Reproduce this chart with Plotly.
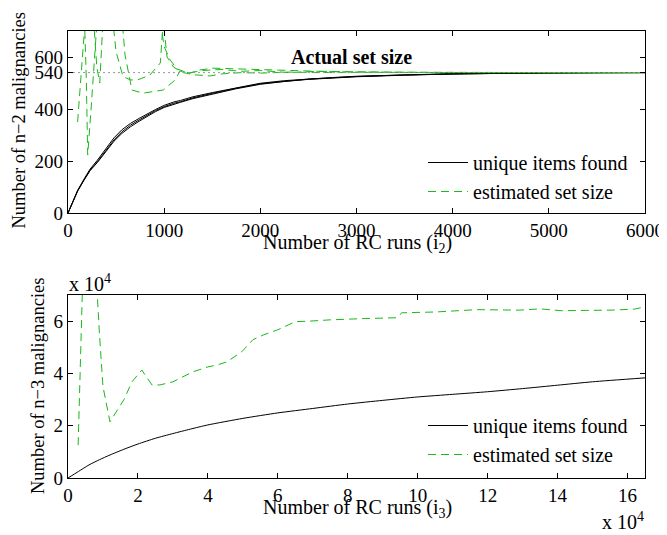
import plotly.graph_objects as go

# ---------------- data: n-2 (top panel) ----------------
ACTUAL_SET_SIZE = 540

UNIQUE2_X = [0, 50, 100, 166, 230, 305, 400, 478, 560, 651, 740, 825, 910, 1000, 1100, 1171,
             1300, 1500, 1750, 2000, 2250, 2500, 2750, 3000, 3500, 4000, 4500, 5000, 5500, 6000]
UNIQUE2_A = [0, 45, 85, 127, 165, 197, 243, 281, 312, 338, 358, 377, 394, 409, 422, 428,
             443, 460, 480, 497, 507, 515, 520, 525, 531, 535, 537, 539, 540, 540]
UNIQUE2_B = [0, 46, 87, 130, 169, 203, 250, 289, 320, 345, 364, 382, 398, 414, 427, 433,
             447, 463, 482, 499, 509, 516, 521, 526, 532, 536, 538, 539, 540, 540]
UNIQUE2_C = [0, 45, 84, 126, 163, 194, 238, 276, 306, 332, 353, 372, 390, 406, 419, 426,
             440, 458, 478, 495, 506, 514, 520, 524, 530, 535, 537, 539, 540, 540]

EST2_A_X = [100, 130, 160, 185, 230, 270, 300, 330, 360, 400, 600, 800, 950, 1000, 1060, 1130,
            1250, 1400, 1600, 1800, 2000, 2300, 2600, 3000, 3500, 4000, 4500, 5000, 5500, 6000]
EST2_A_Y = [350, 520, 650, 760, 900, 720, 560, 500, 720, 1000, 1200, 1000, 760, 640, 590, 555,
            538, 548, 552, 545, 548, 540, 545, 542, 541, 540, 540, 540, 540, 540]

EST2_B_X = [140, 175, 190, 205, 240, 290, 350, 420, 478, 500, 572, 650, 717, 850, 960, 990,
            1030, 1100, 1200, 1300, 1476, 1600, 1800, 2000, 2300, 2600, 3000, 3500, 4000,
            4500, 5000, 5500, 6000]
EST2_B_Y = [900, 700, 520, 223, 400, 720, 1000, 900, 700, 620, 525, 512, 511, 530, 577, 740,
            600, 560, 540, 532, 527, 535, 540, 538, 542, 540, 541, 540, 540,
            540, 540, 540, 540]

EST2_C_X = [80, 150, 250, 400, 520, 572, 593, 665, 780, 990, 1112, 1164, 1270, 1370, 1507,
            1700, 1900, 2100, 2400, 2700, 3000, 3500, 4000, 4500, 5000, 6000]
EST2_C_Y = [1500, 1400, 1200, 1000, 800, 700, 608, 473, 461, 473, 511, 546, 538, 550, 557,
            555, 552, 548, 546, 544, 542, 541, 540, 540, 540, 540]

X2_TICKS = [0, 1000, 2000, 3000, 4000, 5000, 6000]
Y2_TICKS = [0, 200, 400, 540, 600]

# ---------------- data: n-3 (bottom panel) ----------------
UNIQUE3_X = [0, 3000, 6000, 9000, 12000, 16000, 20000, 25000, 30000, 35000, 40000, 50000,
             60000, 70000, 80000, 90000, 100000, 110000, 120000, 130000, 140000, 150000, 165000]
UNIQUE3_Y = [0, 2500, 5000, 7000, 8800, 11000, 13000, 15200, 17000, 18700, 20300, 22800,
             24900, 26600, 28300, 29700, 31000, 32000, 33000, 34200, 35500, 36800, 38300]

EST3_X = [2900, 4200, 6000, 8300, 9000, 10000, 12000, 16000, 18300, 21100, 24000, 26300,
          30000, 35700, 40000, 42600, 45400, 49700, 52900, 56000, 60000, 65000, 69000, 75000,
          85000, 94000, 95500, 105000, 117000, 129000, 135000, 141000, 155000, 162000, 165000]
EST3_Y = [12600, 76000, 95000, 72000, 55000, 35000, 21500, 30000, 36800, 41300, 35600, 35600,
          36800, 40600, 42500, 43200, 44400, 48300, 52900, 54800, 56700, 59800, 60000, 60500,
          61000, 61300, 63200, 63500, 64400, 64200, 64700, 64000, 64200, 64600, 65500]

X3_TICKVALS = [0, 20000, 40000, 60000, 80000, 100000, 120000, 140000, 160000]
X3_TICKTEXT = ["0", "2", "4", "6", "8", "10", "12", "14", "16"]
Y3_TICKVALS = [0, 20000, 40000, 60000]
Y3_TICKTEXT = ["0", "2", "4", "6"]

# ---------------- styling ----------------
FONT = "Liberation Serif"
BLACK = "black"
GREEN = "rgb(25,185,25)"
DASH = "8px,5px"
OFF = 8                      # page body margin
W, H = 667 - OFF, 535 - OFF  # figure size


def px(x):
    return (x - OFF) / W


def py(y):
    return 1 - (y - OFF) / H


fig = go.Figure()

# top panel
for i, ys in enumerate([UNIQUE2_A, UNIQUE2_B, UNIQUE2_C]):
    fig.add_trace(go.Scatter(x=UNIQUE2_X, y=ys, mode="lines", xaxis="x", yaxis="y",
                             line=dict(color=BLACK, width=1), name="unique items found",
                             legend="legend", legendgroup="u2", showlegend=(i == 0)))
for i, (xs, ys) in enumerate([(EST2_A_X, EST2_A_Y), (EST2_B_X, EST2_B_Y), (EST2_C_X, EST2_C_Y)]):
    fig.add_trace(go.Scatter(x=xs, y=ys, mode="lines", xaxis="x", yaxis="y",
                             line=dict(color=GREEN, width=1, dash=DASH), name="estimated set size",
                             legend="legend", legendgroup="e2", showlegend=(i == 0)))
fig.add_trace(go.Scatter(x=[X2_TICKS[0], X2_TICKS[-1]], y=[ACTUAL_SET_SIZE, ACTUAL_SET_SIZE],
                         mode="lines", xaxis="x", yaxis="y", showlegend=False,
                         line=dict(color="#999999", width=1, dash="2px,3px")))

# bottom panel
fig.add_trace(go.Scatter(x=UNIQUE3_X, y=UNIQUE3_Y, mode="lines", xaxis="x2", yaxis="y2",
                         line=dict(color=BLACK, width=1, shape="spline", smoothing=0.6),
                         name="unique items found", legend="legend2", legendgroup="u3"))
fig.add_trace(go.Scatter(x=EST3_X, y=EST3_Y, mode="lines", xaxis="x2", yaxis="y2",
                         line=dict(color=GREEN, width=1, dash=DASH), name="estimated set size",
                         legend="legend2", legendgroup="e3"))

XDOM = [px(68), px(645)]
axis_common = dict(showline=True, linecolor="black", linewidth=1.2, mirror="ticks",
                   ticks="inside", ticklen=5, tickwidth=1, tickcolor="black",
                   showgrid=False, zeroline=False, automargin=False,
                   tickfont=dict(family=FONT, size=19, color="black"))

fig.update_layout(
    width=W, height=H, margin=dict(l=0, r=0, t=0, b=0, autoexpand=False),
    paper_bgcolor="white", plot_bgcolor="white",
    font=dict(family=FONT, size=20, color="black"),
    xaxis=dict(domain=XDOM, range=[0, 6000], tickvals=X2_TICKS, anchor="y", **axis_common),
    yaxis=dict(domain=[py(213), py(31)], range=[0, 700], tickvals=Y2_TICKS,
               anchor="x", **axis_common),
    xaxis2=dict(domain=XDOM, range=[0, 165000], tickvals=X3_TICKVALS, ticktext=X3_TICKTEXT,
                anchor="y2", **axis_common),
    yaxis2=dict(domain=[py(478), py(295)], range=[0, 70000], tickvals=Y3_TICKVALS,
                ticktext=Y3_TICKTEXT, anchor="x2", **axis_common),
    legend=dict(x=px(423), y=py(143), xanchor="left", yanchor="top",
                bgcolor="rgba(0,0,0,0)", font=dict(family=FONT, size=20),
                traceorder="grouped", tracegroupgap=0, itemwidth=40),
    legend2=dict(x=px(423), y=py(406), xanchor="left", yanchor="top",
                 bgcolor="rgba(0,0,0,0)", font=dict(family=FONT, size=20),
                 traceorder="grouped", tracegroupgap=0, itemwidth=40),
)

ann = [
    dict(text="<b>Actual set size</b>", x=2950, y=600, xref="x", yref="y",
         showarrow=False, font=dict(size=20)),
    dict(text="Number of RC runs (i<sub>2</sub>)", x=px(357), y=py(244),
         xref="paper", yref="paper", showarrow=False, yanchor="middle"),
    dict(text="Number of n\u22122 malignancies", x=px(18.5), y=py(121),
         xref="paper", yref="paper", showarrow=False, textangle=-90,
         xanchor="center", yanchor="middle", font=dict(size=18.5)),
    dict(text="Number of RC runs (i<sub>3</sub>)", x=px(357), y=py(508),
         xref="paper", yref="paper", showarrow=False, yanchor="middle"),
    dict(text="Number of n\u22123 malignancies", x=px(38), y=py(386),
         xref="paper", yref="paper", showarrow=False, textangle=-90,
         xanchor="center", yanchor="middle", font=dict(size=18.5)),
    dict(text="x 10<sup>4</sup>", x=px(67), y=py(283), xref="paper", yref="paper",
         showarrow=False, xanchor="left", yanchor="middle"),
    dict(text="x 10<sup>4</sup>", x=px(646), y=py(521), xref="paper", yref="paper",
         showarrow=False, xanchor="right", yanchor="middle"),
]
fig.update_layout(annotations=ann)

fig.write_html("out.html")
